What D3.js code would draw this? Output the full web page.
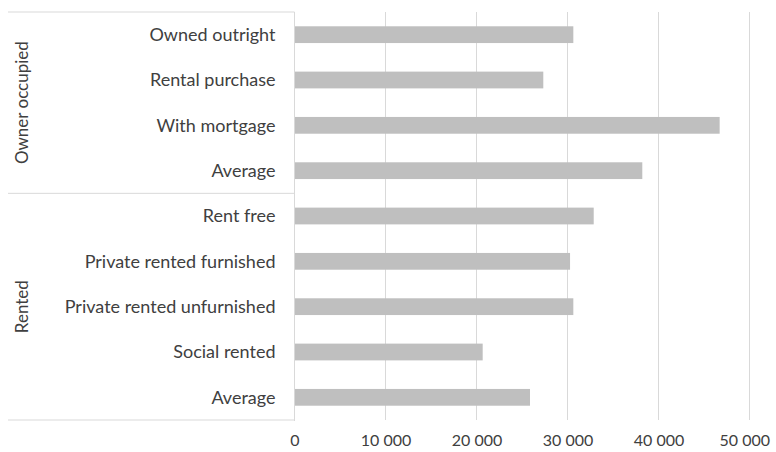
<!DOCTYPE html>
<html>
<head>
<meta charset="utf-8">
<script src="https://cdn.jsdelivr.net/npm/d3@7"></script>
<style>
	body { margin: 0; background: #fff; }
	text { font-family: Lato, "Open Sans", sans-serif; fill: #404040; }
	.catLabel { font-size: 18px; }
	.groupLabel { font-size: 17px; }
	.tick text { font-size: 16px; }
</style>
</head>
<body>
<div id="viz"></div>
<script>
// categories, top to bottom
categories = [
	'Owned outright',
	'Rental purchase',
	'With mortgage',
	'Average',
	'Rent free',
	'Private rented furnished',
	'Private rented unfurnished',
	'Social rented',
	'Average'
	];

values = [30640, 27340, 46720, 38220, 32880, 30280, 30640, 20680, 25880];

groups = ['Owner occupied', 'Rented'];
groupSizes = [4, 5];

ticks = [0, 10000, 20000, 30000, 40000, 50000];

width = 776;
height = 452;
margin = {top: 12, left: 294.5};

xScale = d3.scaleLinear()
	.domain([0, 50000])
	.range([0, 455]);

yScale = d3.scaleBand()
	.domain(d3.range(categories.length))
	.range([0, 408])
	.paddingInner(0.63)
	.paddingOuter(0.315);

fmt = function(d){ return d3.format(',')(d).replace(/,/g, ' '); };

svg = d3.select('#viz').append('svg')
	.attr('width', width)
	.attr('height', height)
	.append('g')
	.attr('transform', 'translate(' + margin.left + ',' + margin.top + ')');

// gridlines
svg.selectAll('line.grid')
	.data(ticks)
	.enter()
	.append('line')
	.attr('class', 'grid')
	.attr('x1', d => xScale(d))
	.attr('x2', d => xScale(d))
	.attr('y1', 0)
	.attr('y2', 408)
	.attr('stroke', '#d9d9d9')
	.attr('stroke-width', 1);

// bars
svg.selectAll('rect.bar')
	.data(values)
	.enter()
	.append('rect')
	.attr('class', 'bar')
	.attr('x', 0)
	.attr('y', (d,i) => yScale(i))
	.attr('width', d => xScale(d))
	.attr('height', yScale.bandwidth())
	.attr('fill', '#bfbfbf');

// x axis labels
xAxis = svg.append('g')
	.attr('transform', 'translate(0,408)')
	.call(d3.axisBottom(xScale).tickValues(ticks).tickFormat(fmt).tickSize(0).tickPadding(15));
xAxis.select('.domain').remove();
xAxis.selectAll('.tick text')
	.attr('font-family', null)
	.attr('font-size', null)
	.each(function(){
		// keep last label inside the picture like excel does
		var b = this.getBBox();
		var t = d3.select(this.parentNode).attr('transform');
		var tx = +t.match(/translate\(([-\d.]+)/)[1];
		var right = margin.left + tx + b.x + b.width;
		if (right > width - 6) {
			d3.select(this).attr('dx', (width - 6 - right) + 'px');
		}
	});

// category axis line
svg.append('line')
	.attr('x1', 0).attr('x2', 0)
	.attr('y1', 0).attr('y2', 409)
	.attr('stroke', '#d9d9d9');

// category labels
svg.selectAll('text.catLabel')
	.data(categories)
	.enter()
	.append('text')
	.attr('class', 'catLabel')
	.attr('x', -19)
	.attr('y', (d,i) => yScale(i) + yScale.bandwidth() / 2)
	.attr('dy', '0.35em')
	.attr('text-anchor', 'end')
	.text(d => d);

// group separators
bounds = [0];
groupSizes.forEach(function(s){ bounds.push(bounds[bounds.length - 1] + s); });

svg.selectAll('line.sep')
	.data(bounds)
	.enter()
	.append('line')
	.attr('class', 'sep')
	.attr('x1', -286.5)
	.attr('x2', 0)
	.attr('y1', d => d / categories.length * 408)
	.attr('y2', d => d / categories.length * 408)
	.attr('stroke', '#d9d9d9');

// group labels
svg.selectAll('text.groupLabel')
	.data(groups)
	.enter()
	.append('text')
	.attr('class', 'groupLabel')
	.attr('text-anchor', 'middle')
	.attr('transform', function(d,i){
		var mid = (bounds[i] + bounds[i+1]) / 2 / categories.length * 408;
		return 'translate(' + (-272) + ',' + mid + ') rotate(-90)';
	})
	.attr('dy', '0.35em')
	.text(d => d);
</script>
</body>
</html>
